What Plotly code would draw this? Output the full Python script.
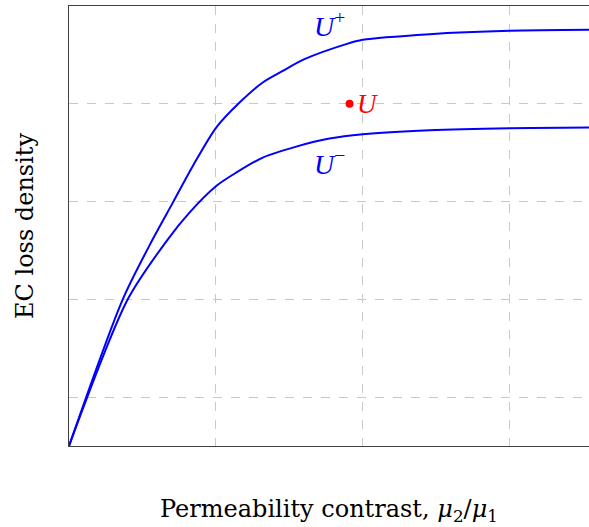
import plotly.graph_objects as go

# Data
x_upper = [0, 0.366, 0.570, 0.707, 0.843, 1.002, 1.161, 1.319, 1.455, 1.603, 1.887, 2.0, 2.456, 3.0, 3.54]
y_upper = [0, 1.50, 2.114, 2.489, 2.864, 3.257, 3.513, 3.718, 3.836, 3.956, 4.110, 4.154, 4.212, 4.246, 4.256]

x_lower = [0, 0.400, 0.673, 0.820, 1.002, 1.138, 1.319, 1.547, 1.773, 2.0, 2.454, 3.0, 3.54]
y_lower = [0, 1.50, 2.114, 2.387, 2.659, 2.796, 2.950, 3.062, 3.144, 3.188, 3.229, 3.250, 3.257]

point_x = [1.91]
point_y = [3.50]

x_range = [0, 3.54]
y_range = [0, 4.5]

blue = "#0000ff"
red = "#ff0000"
font = "DejaVu Serif"
lab_font = "Liberation Serif"

fig = go.Figure()
fig.add_trace(go.Scatter(x=x_upper, y=y_upper, mode="lines",
                         line=dict(color=blue, width=2, shape="spline", smoothing=0.8),
                         showlegend=False))
fig.add_trace(go.Scatter(x=x_lower, y=y_lower, mode="lines",
                         line=dict(color=blue, width=2, shape="spline", smoothing=0.8),
                         showlegend=False))
fig.add_trace(go.Scatter(x=point_x, y=point_y, mode="markers",
                         marker=dict(color=red, size=8), showlegend=False))

fig.add_annotation(x=point_x[0], y=y_upper[10], text="<i>U</i><sup>+</sup>",
                   showarrow=False, xanchor="right", yanchor="bottom",
                   xshift=-3, yshift=0, font=dict(color=blue, size=28, family=lab_font))
fig.add_annotation(x=point_x[0], y=y_lower[8], text="<i>U</i><sup>−</sup>",
                   showarrow=False, xanchor="right", yanchor="top",
                   xshift=-3, yshift=-4, font=dict(color=blue, size=28, family=lab_font))
fig.add_annotation(x=point_x[0], y=point_y[0], text="<i>U</i>",
                   showarrow=False, xanchor="left", yanchor="middle",
                   xshift=5, font=dict(color=red, size=27, family=lab_font))

fig.update_layout(
    width=589, height=527,
    margin=dict(l=69, r=0, t=6, b=81),
    paper_bgcolor="white", plot_bgcolor="white",
    font=dict(family=font, size=24, color="black"),
    xaxis=dict(range=x_range, showticklabels=False, ticks="",
               showgrid=True, gridcolor="#c8c8c8", griddash="dash", gridwidth=1,
               tick0=0, dtick=1, zeroline=False,
               showline=True, linecolor="#404040", linewidth=1, mirror=True,
               title=dict(text="Permeability contrast, <i>μ</i><sub>2</sub>/<i>μ</i><sub>1</sub>",
                          standoff=54, font=dict(size=24))),
    yaxis=dict(range=y_range, showticklabels=False, ticks="",
               showgrid=True, gridcolor="#c8c8c8", griddash="dash", gridwidth=1,
               tick0=0.5, dtick=1, zeroline=False,
               showline=True, linecolor="#404040", linewidth=1,
               title=dict(text="EC loss density", standoff=27, font=dict(size=24))),
)

fig.write_html("out.html")
